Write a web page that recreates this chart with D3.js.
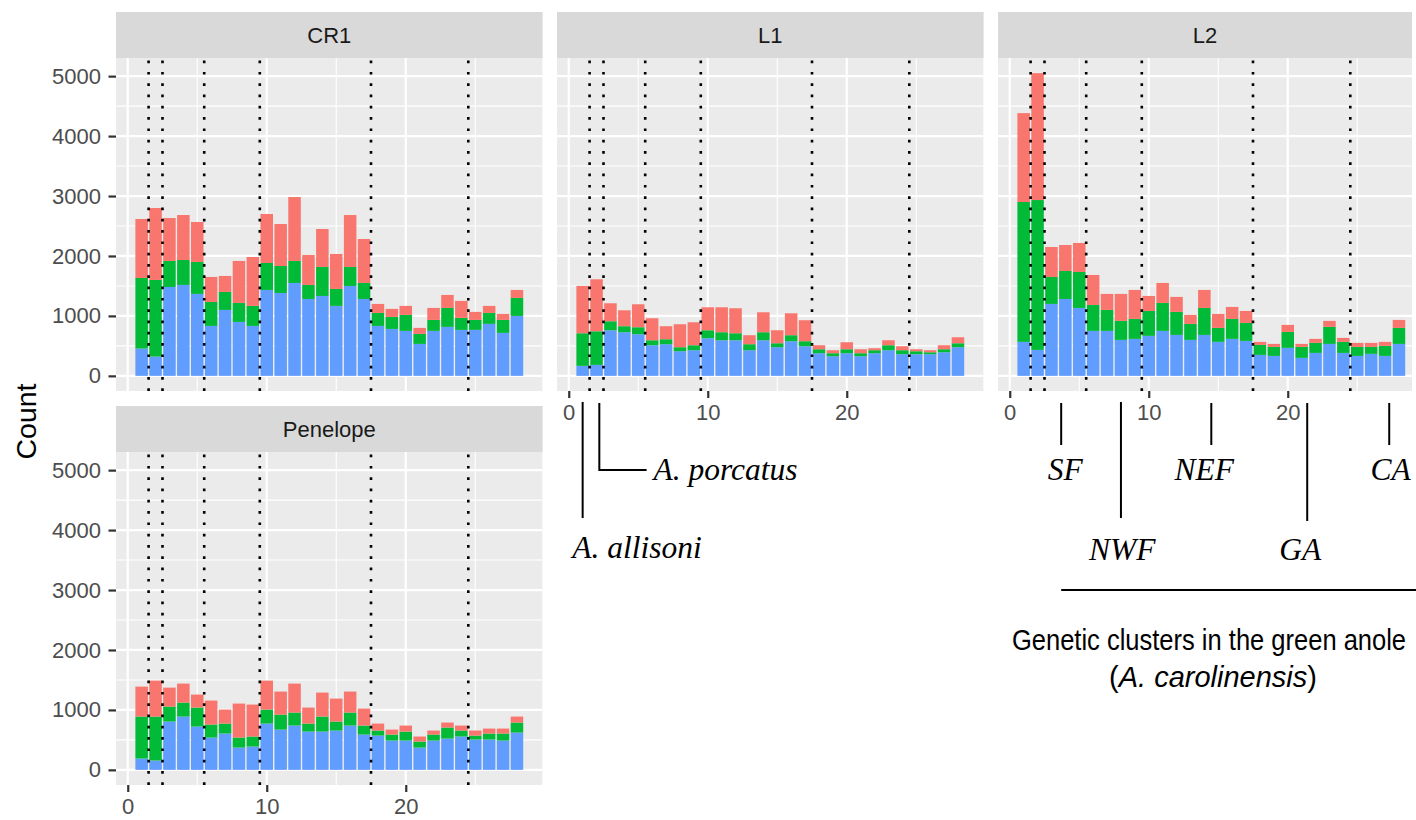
<!DOCTYPE html>
<html>
<head>
<meta charset="utf-8">
<script src="https://cdn.jsdelivr.net/npm/d3@7"></script>
<style>
  body { margin: 0; background: #ffffff; }
  svg { display: block; }
</style>
</head>
<body>
<svg id="chart" width="1416" height="820"></svg>
<script>
// ---- data -------------------------------------------------------------
const bins = [1, 2, 3, 4, 5, 6, 7, 8, 9, 10, 11, 12, 13, 14, 15, 16, 17, 18, 19, 20, 21, 22, 23, 24, 25, 26, 27, 28];
const seriesKeys = ["blue", "green", "red"];          // stacked bottom -> top
const seriesColors = { blue: "#619CFF", green: "#00BA38", red: "#F8766D" };

const cr1Blue  = [456, 322, 1483, 1517, 1367, 833, 1100, 900, 833, 1433, 1383, 1550, 1283, 1333, 1167, 1500, 1283, 833, 783, 750, 533, 750, 817, 767, 767, 867, 717, 1000];
const cr1Green = [1177, 1278, 434, 416, 533, 400, 300, 317, 334, 450, 450, 367, 234, 484, 283, 317, 267, 217, 200, 267, 167, 183, 316, 200, 166, 183, 216, 300];
const cr1Red   = [984, 1200, 716, 750, 667, 417, 267, 700, 816, 817, 700, 1066, 500, 633, 583, 866, 733, 150, 134, 150, 100, 200, 217, 283, 134, 117, 100, 133];

const l1Blue  = [167, 183, 761, 728, 694, 511, 528, 411, 428, 628, 594, 594, 428, 594, 478, 578, 494, 378, 328, 378, 328, 378, 428, 361, 361, 361, 394, 478];
const l1Green = [544, 561, 150, 100, 117, 83, 83, 67, 83, 133, 134, 117, 100, 134, 66, 100, 84, 66, 50, 66, 50, 50, 83, 67, 50, 33, 50, 66];
const l1Red   = [789, 867, 300, 266, 383, 367, 217, 383, 383, 383, 416, 417, 150, 333, 217, 366, 350, 67, 50, 117, 66, 33, 83, 66, 33, 34, 67, 100];

const l2Blue  = [567, 433, 1200, 1283, 1133, 750, 750, 600, 617, 667, 750, 683, 600, 683, 567, 617, 583, 350, 333, 467, 300, 383, 533, 383, 333, 367, 333, 533];
const l2Green = [2333, 2500, 450, 467, 600, 433, 350, 317, 333, 416, 467, 384, 267, 450, 233, 333, 300, 167, 150, 266, 183, 167, 284, 184, 150, 116, 167, 267];
const l2Red   = [1483, 2117, 500, 433, 484, 500, 267, 450, 483, 250, 333, 250, 150, 300, 233, 200, 200, 50, 50, 117, 50, 67, 100, 66, 67, 67, 67, 133];

const penBlue  = [189, 156, 806, 889, 722, 539, 606, 372, 389, 772, 672, 739, 639, 639, 656, 739, 589, 572, 489, 489, 372, 489, 522, 556, 506, 506, 489, 622];
const penGreen = [700, 733, 250, 233, 317, 217, 166, 167, 167, 234, 250, 217, 133, 250, 150, 217, 150, 84, 100, 150, 100, 100, 184, 100, 66, 100, 117, 167];
const penRed   = [500, 600, 316, 317, 217, 400, 234, 567, 533, 483, 384, 483, 267, 400, 383, 350, 283, 116, 83, 100, 84, 67, 83, 83, 84, 83, 83, 100];

// cluster boundaries drawn as dotted rules
const boundaries = [1.5, 2.5, 5.5, 9.5, 17.5, 24.5];

const xTicks = [0, 10, 20];
const xMinor = [5, 15, 25];
const yTicks = [0, 1000, 2000, 3000, 4000, 5000];
const yMinor = [500, 1500, 2500, 3500, 4500];

const panels = [
  { name: "CR1",      col: 0, row: 0, blue: cr1Blue, green: cr1Green, red: cr1Red, yAxis: true,  xAxis: false },
  { name: "L1",       col: 1, row: 0, blue: l1Blue,  green: l1Green,  red: l1Red,  yAxis: false, xAxis: true  },
  { name: "L2",       col: 2, row: 0, blue: l2Blue,  green: l2Green,  red: l2Red,  yAxis: false, xAxis: true  },
  { name: "Penelope", col: 0, row: 1, blue: penBlue, green: penGreen, red: penRed, yAxis: true,  xAxis: true  }
];

// species / cluster call-outs below the L1 and L2 panels
const l1Callouts = [
  { label: "A. allisoni", x: 1.0, y0: 402, y1: 518, tx: 0.25, ty: 558, anchor: "start", elbow: null },
  { label: "A. porcatus", x: 2.2, y0: 403, y1: 470, tx: 6.1,  ty: 480, anchor: "start", elbow: 5.6 }
];
const l2Callouts = [
  { label: "SF",  x: 3.7,  y0: 403, y1: 445, tx: 4.0,  ty: 480 },
  { label: "NWF", x: 8.0,  y0: 402, y1: 518, tx: 8.1,  ty: 560 },
  { label: "NEF", x: 14.5, y0: 403, y1: 445, tx: 14.0, ty: 480 },
  { label: "GA",  x: 21.4, y0: 403, y1: 521, tx: 20.9, ty: 560 },
  { label: "CA",  x: 27.3, y0: 403, y1: 445, tx: 27.4, ty: 480 }
];

// ---- layout -----------------------------------------------------------
const colLeft = [116, 557, 998];
const colVisible = [426.6, 426.6, 414];
const panelW = 426.6;
const stripTop = [12, 406];
const stripH = 46;
const panelH = 333;

const sans = "'Liberation Sans', Arial, sans-serif";
const serif = "'Liberation Serif', 'Times New Roman', serif";

const svg = d3.select("#chart");

// shared scales (fixed facets)
const barWidth = 0.9;
const xLo = bins[0] - barWidth / 2, xHi = bins[bins.length - 1] + barWidth / 2;
const xPad = 0.05 * (xHi - xLo);
const xDomain = [xLo - xPad, xHi + xPad];

const allStacks = panels.map(p => d3.stack().keys(seriesKeys)(bins.map((b, i) => ({ bin: b, blue: p.blue[i], green: p.green[i], red: p.red[i] }))));
const maxTotal = d3.max(allStacks, st => d3.max(st[st.length - 1], d => d[1]));
const yDomain = [-0.05 * maxTotal, 1.05 * maxTotal];

function xScaleFor(col) {
  return d3.scaleLinear().domain(xDomain).range([colLeft[col], colLeft[col] + panelW]);
}
function yScaleFor(row) {
  const top = stripTop[row] + stripH;
  return d3.scaleLinear().domain(yDomain).range([top + panelH, top]);
}

const defs = svg.append("defs");

panels.forEach((p, pi) => {
  const x = xScaleFor(p.col);
  const y = yScaleFor(p.row);
  const left = colLeft[p.col];
  const visW = colVisible[p.col];
  const top = stripTop[p.row] + stripH;
  const bottom = top + panelH;

  const clipId = "clip-" + pi;
  defs.append("clipPath").attr("id", clipId)
    .append("rect").attr("x", left).attr("y", top).attr("width", visW).attr("height", panelH);

  // strip
  svg.append("rect").attr("x", left).attr("y", stripTop[p.row]).attr("width", visW).attr("height", stripH)
    .attr("fill", "#D9D9D9");
  svg.append("text").attr("x", left + visW / 2).attr("y", stripTop[p.row] + stripH / 2)
    .attr("text-anchor", "middle").attr("dominant-baseline", "central")
    .attr("font-family", sans).attr("font-size", 22).attr("fill", "#1A1A1A").text(p.name);

  const g = svg.append("g").attr("clip-path", `url(#${clipId})`);
  g.append("rect").attr("x", left).attr("y", top).attr("width", visW).attr("height", panelH).attr("fill", "#EBEBEB");

  // grid
  g.selectAll(".ymin").data(yMinor).join("line")
    .attr("x1", left).attr("x2", left + panelW).attr("y1", d => y(d)).attr("y2", d => y(d))
    .attr("stroke", "#fff").attr("stroke-width", 1.1);
  g.selectAll(".xmin").data(xMinor).join("line")
    .attr("y1", top).attr("y2", bottom).attr("x1", d => x(d)).attr("x2", d => x(d))
    .attr("stroke", "#fff").attr("stroke-width", 1.1);
  g.selectAll(".ymaj").data(yTicks).join("line")
    .attr("x1", left).attr("x2", left + panelW).attr("y1", d => y(d)).attr("y2", d => y(d))
    .attr("stroke", "#fff").attr("stroke-width", 2.2);
  g.selectAll(".xmaj").data(xTicks).join("line")
    .attr("y1", top).attr("y2", bottom).attr("x1", d => x(d)).attr("x2", d => x(d))
    .attr("stroke", "#fff").attr("stroke-width", 2.2);

  // stacked bars
  const stack = allStacks[pi];
  g.selectAll(".layer").data(stack).join("g")
    .attr("fill", d => seriesColors[d.key])
    .selectAll("rect").data(d => d).join("rect")
    .attr("x", d => x(d.data.bin - barWidth / 2))
    .attr("width", d => x(d.data.bin + barWidth / 2) - x(d.data.bin - barWidth / 2))
    .attr("y", d => y(d[1]))
    .attr("height", d => y(d[0]) - y(d[1]));

  // dotted boundaries
  g.selectAll(".bound").data(boundaries).join("line")
    .attr("x1", d => x(d)).attr("x2", d => x(d)).attr("y1", bottom).attr("y2", top)
    .attr("stroke", "#000").attr("stroke-width", 2.6).attr("stroke-dasharray", "2.7 8.6");

  // axes
  if (p.yAxis) {
    const ax = svg.append("g").attr("transform", `translate(${left},0)`)
      .call(d3.axisLeft(y).tickValues(yTicks).tickSize(7.5).tickPadding(7.5).tickFormat(d3.format("d")));
    ax.select(".domain").remove();
    ax.selectAll(".tick line").attr("stroke", "#333333").attr("stroke-width", 2.2);
    ax.selectAll(".tick text").attr("fill", "#4D4D4D").attr("font-family", sans).attr("font-size", 22);
  }
  if (p.xAxis) {
    const ax = svg.append("g").attr("transform", `translate(0,${bottom})`)
      .call(d3.axisBottom(x).tickValues(xTicks).tickSize(7).tickPadding(6.5).tickFormat(d3.format("d")));
    ax.select(".domain").remove();
    ax.selectAll(".tick line").attr("stroke", "#333333").attr("stroke-width", 2.2);
    ax.selectAll(".tick text").attr("fill", "#4D4D4D").attr("font-family", sans).attr("font-size", 22);
  }
});

// y axis title
svg.append("text")
  .attr("transform", "translate(36,421.5) rotate(-90)")
  .attr("text-anchor", "middle")
  .attr("font-family", sans).attr("font-size", 28.5).attr("fill", "#000")
  .text("Count");

// call-outs under L1
const xL1 = xScaleFor(1);
l1Callouts.forEach(c => {
  if (c.elbow == null) {
    svg.append("line").attr("x1", xL1(c.x)).attr("x2", xL1(c.x)).attr("y1", c.y0).attr("y2", c.y1)
      .attr("stroke", "#000").attr("stroke-width", 2);
  } else {
    svg.append("path")
      .attr("d", `M${xL1(c.x)},${c.y0}V${c.y1}H${xL1(c.elbow)}`)
      .attr("fill", "none").attr("stroke", "#000").attr("stroke-width", 2);
  }
  svg.append("text").attr("x", xL1(c.tx)).attr("y", c.ty).attr("text-anchor", c.anchor)
    .attr("font-family", serif).attr("font-style", "italic").attr("font-size", 31.5).attr("fill", "#000")
    .text(c.label);
});

// call-outs under L2
const xL2 = xScaleFor(2);
l2Callouts.forEach(c => {
  svg.append("line").attr("x1", xL2(c.x)).attr("x2", xL2(c.x)).attr("y1", c.y0).attr("y2", c.y1)
    .attr("stroke", "#000").attr("stroke-width", 2);
  svg.append("text").attr("x", xL2(c.tx)).attr("y", c.ty).attr("text-anchor", "middle")
    .attr("font-family", serif).attr("font-style", "italic").attr("font-size", 31.5).attr("fill", "#000")
    .text(c.label);
});

// bracket line and caption for the green anole clusters
svg.append("line").attr("x1", xL2(3.7)).attr("x2", 1416).attr("y1", 590).attr("y2", 590)
  .attr("stroke", "#000").attr("stroke-width", 2);

// first caption line is set in a condensed width
svg.append("text").attr("transform", "translate(1209,650) scale(0.88,1)").attr("text-anchor", "middle")
  .attr("font-family", sans).attr("font-size", 29).attr("fill", "#000")
  .text("Genetic clusters in the green anole");

const cap2 = svg.append("text").attr("x", 1213).attr("y", 687).attr("text-anchor", "middle")
  .attr("font-family", sans).attr("font-size", 29).attr("fill", "#000");
cap2.append("tspan").text("(");
cap2.append("tspan").attr("font-style", "italic").text("A. carolinensis");
cap2.append("tspan").text(")");
</script>
</body>
</html>
